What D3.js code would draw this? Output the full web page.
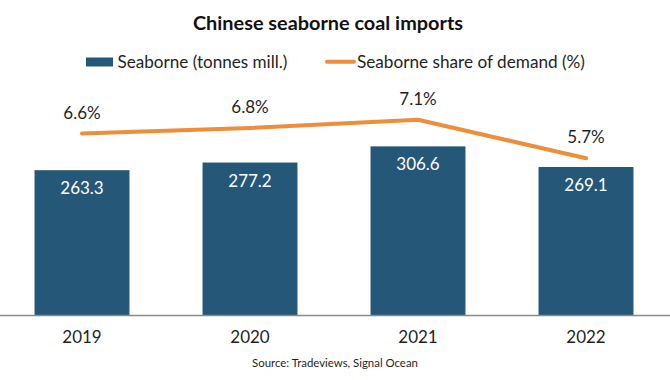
<!DOCTYPE html>
<html>
<head>
<meta charset="utf-8">
<script src="https://cdn.jsdelivr.net/npm/d3@7"></script>
<style>
  html, body { margin: 0; padding: 0; background: #fff; }
  svg { display: block; }
  text { font-family: Lato, "Open Sans", sans-serif; }
</style>
</head>
<body>
<svg id="chart" width="670" height="380"></svg>
<script>
const years = ["2019", "2020", "2021", "2022"];
const seaborne = [263.3, 277.2, 306.6, 269.1];
const sharePct = [6.6, 6.8, 7.1, 5.7];
const titleText = "Chinese seaborne coal imports";
const legendLabels = ["Seaborne (tonnes mill.)", "Seaborne share of demand (%)"];
const sourceText = "Source: Tradeviews, Signal Ocean";

const barColor = "#255779";
const lineColor = "#EE8E3A";
const textColor = "#1f1f1f";

const svg = d3.select("#chart");
const W = 670, H = 380;
svg.append("rect").attr("width", W).attr("height", H).attr("fill", "#fff");

const baseY = 315;
const x = d3.scaleBand().domain(years).range([-2, 670]).paddingInner(0.435).paddingOuter(0.2175);
const y = d3.scaleLinear().domain([0, 500]).range([baseY, 40]);
const y2 = d3.scaleLinear().domain([0, 10]).range([baseY, 40]);

function fitWidth(sel, target) {
  const node = sel.node();
  const fs = parseFloat(sel.attr("font-size"));
  const w = node.getComputedTextLength();
  if (w > 0) sel.attr("font-size", (fs * target / w).toFixed(2));
  return sel;
}

// Title
fitWidth(svg.append("text")
  .attr("x", 328).attr("y", 30)
  .attr("text-anchor", "middle")
  .attr("font-size", 20).attr("font-weight", 700)
  .attr("fill", "#111")
  .text(titleText), 270);

// Legend
const leg = svg.append("g");
leg.append("rect").attr("x", 86).attr("y", 57.5).attr("width", 27).attr("height", 9).attr("fill", barColor);
fitWidth(leg.append("text").attr("x", 117.5).attr("y", 68).attr("font-size", 16).attr("fill", textColor)
  .text(legendLabels[0]), 170);
leg.append("line").attr("x1", 327).attr("x2", 354).attr("y1", 61.7).attr("y2", 61.7)
  .attr("stroke", lineColor).attr("stroke-width", 4).attr("stroke-linecap", "round");
fitWidth(leg.append("text").attr("x", 357).attr("y", 68).attr("font-size", 16).attr("fill", textColor)
  .text(legendLabels[1]), 228);

// Bars
const data = years.map((yr, i) => ({ yr, v: seaborne[i], s: sharePct[i] }));
svg.append("g").selectAll("rect").data(data).join("rect")
  .attr("x", d => x(d.yr))
  .attr("y", d => y(d.v))
  .attr("width", x.bandwidth())
  .attr("height", d => baseY - y(d.v))
  .attr("fill", barColor);

svg.append("g").selectAll("text").data(data).join("text")
  .attr("x", d => x(d.yr) + x.bandwidth() / 2)
  .attr("y", d => y(d.v) + 24)
  .attr("text-anchor", "middle")
  .attr("font-size", 17)
  .attr("fill", "#fff")
  .text(d => d.v.toFixed(1));

// X axis
const xAxis = svg.append("g").attr("transform", `translate(0,${baseY})`)
  .call(d3.axisBottom(x).tickSize(0).tickPadding(14));
xAxis.select(".domain").attr("stroke", "#8a8a8a").attr("stroke-width", 1.5);
xAxis.selectAll(".tick text")
  .attr("font-family", "Lato, 'Open Sans', sans-serif")
  .attr("font-size", 17).attr("fill", textColor)
  .attr("dy", null).attr("y", 28);

// Line
const line = d3.line().x(d => x(d.yr) + x.bandwidth() / 2).y(d => y2(d.s));
svg.append("path").datum(data)
  .attr("d", line)
  .attr("fill", "none")
  .attr("stroke", lineColor)
  .attr("stroke-width", 4)
  .attr("stroke-linecap", "round")
  .attr("stroke-linejoin", "round");

svg.append("g").selectAll("text").data(data).join("text")
  .attr("x", d => x(d.yr) + x.bandwidth() / 2)
  .attr("y", d => y2(d.s) - 15)
  .attr("text-anchor", "middle")
  .attr("font-size", 17)
  .attr("fill", textColor)
  .text(d => d.s.toFixed(1) + "%");

// Source
fitWidth(svg.append("text")
  .attr("x", 335).attr("y", 367)
  .attr("text-anchor", "middle")
  .attr("font-size", 12)
  .attr("fill", textColor)
  .text(sourceText), 166);
</script>
</body>
</html>
